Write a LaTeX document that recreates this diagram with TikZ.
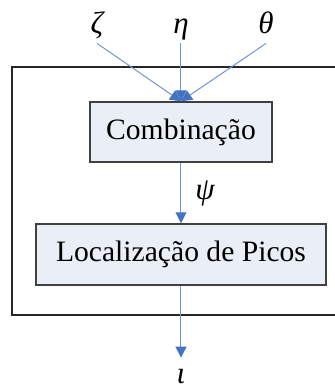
\documentclass[tikz,border=0pt]{standalone}
\usepackage{fontspec}
\setmainfont{Liberation Serif}
\usetikzlibrary{arrows.meta}
\definecolor{lineblue}{RGB}{110,150,215}
\definecolor{headblue}{RGB}{68,114,196}
\definecolor{boxfill}{RGB}{234,239,247}
\definecolor{boxdraw}{RGB}{64,64,64}
\tikzset{
  blockbox/.style={draw=boxdraw, line width=0.75pt, fill=boxfill, inner sep=0pt,
    font=\fontsize{14.8pt}{17pt}\selectfont},
  greeklbl/.style={inner sep=0pt, font=\fontsize{15.5pt}{18pt}\selectfont\itshape},
  flow/.style={draw=lineblue, line width=0.5pt,
    -{Triangle[length=5.5pt,width=5.5pt,color=headblue]}},
}
\begin{document}
\begin{tikzpicture}[x=0.5pt,y=-0.5pt]
\useasboundingbox (0,0) rectangle (335,388);
% outer frame (right side off the picture)
\draw[line width=0.65pt, black!85] (336,67) -- (12,67) -- (12,315) -- (336,315);
% blocks
\node[blockbox, minimum width=91pt, minimum height=30pt] (comb) at (181,132) {Combinação};
\node[blockbox, minimum width=145pt, minimum height=30.5pt] (loc) at (181,254.5) {Localização de Picos};
% input labels
\node[greeklbl, anchor=base, text depth=5pt] (zeta) at (97,33) {ζ};
\node[greeklbl, anchor=base, text depth=5pt] (eta) at (181,33) {η};
\node[greeklbl, anchor=base, text depth=5pt] (theta) at (266,33) {θ};
% output label
\node[greeklbl, anchor=base, text height=12.5pt] (iota) at (181,383) {ι};
% connectors
\draw[flow] (zeta.south) -- (comb.north);
\draw[flow] (eta.south) -- (comb.north);
\draw[flow] (theta.south) -- (comb.north);
\draw[flow] (comb.south) -- node[greeklbl, right=7pt] (psi) {ψ} (loc.north);
\draw[flow] (loc.south) -- (iota.north);
\end{tikzpicture}
\end{document}
